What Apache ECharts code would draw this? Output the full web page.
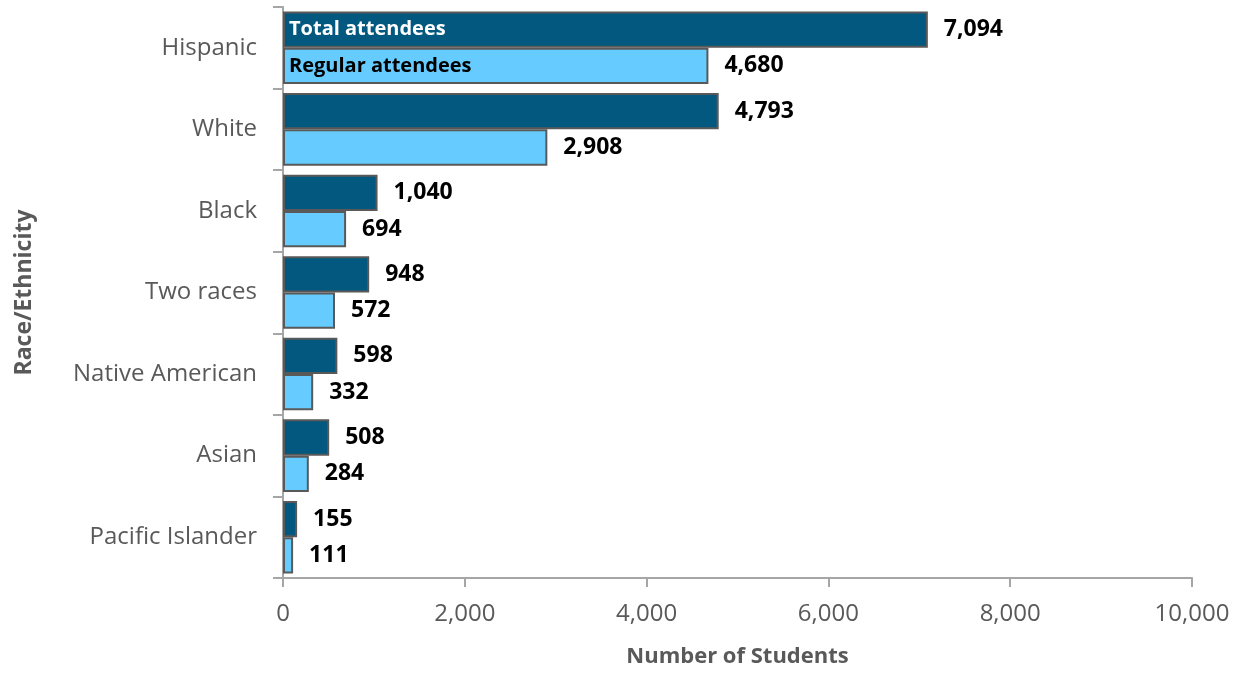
<!DOCTYPE html>
<html>
<head>
<meta charset="utf-8">
<script src="https://cdn.jsdelivr.net/npm/echarts@6/dist/echarts.min.js"></script>
<style>html,body{margin:0;padding:0;background:#fff;}#c{width:1244px;height:673px;}</style>
</head>
<body>
<div id="c"></div>
<script>
const categories = ['Hispanic', 'White', 'Black', 'Two races', 'Native American', 'Asian', 'Pacific Islander'];
const totalAttendees = [7094, 4793, 1040, 948, 598, 508, 155];
const regularAttendees = [4680, 2908, 694, 572, 332, 284, 111];
const seriesNames = ['Total attendees', 'Regular attendees'];
const xTicks = { min: 0, max: 10000, interval: 2000 };

const FONT = '"Open Sans", "Liberation Sans", sans-serif';
const fmt = v => v.toLocaleString('en-US');
const border = { borderColor: '#595959', borderWidth: 2 };

// zero-width bars that only carry the in-bar series names on the first category
const nameCarrier = () => categories.map((c, i) => i === 0 ? 0 : '-');

const chart = echarts.init(document.getElementById('c'));
chart.setOption({
  animation: false,
  backgroundColor: '#fff',
  grid: { left: 283, right: 52, top: 7, bottom: 88, containLabel: false },
  xAxis: {
    type: 'value', min: xTicks.min, max: xTicks.max, interval: xTicks.interval,
    name: 'Number of Students', nameLocation: 'middle', nameGap: 68,
    nameTextStyle: { fontFamily: FONT, fontSize: 22, fontWeight: 'bold', color: '#595959' },
    axisLine: { show: true, lineStyle: { color: '#A6A6A6', width: 2 } },
    axisTick: { show: true, length: 9, lineStyle: { color: '#A6A6A6', width: 2 } },
    axisLabel: { fontFamily: FONT, fontSize: 24, color: '#595959', margin: 24, formatter: v => fmt(v) },
    splitLine: { show: false }
  },
  yAxis: {
    type: 'category', data: categories, inverse: true,
    name: 'Race/Ethnicity', nameLocation: 'middle', nameGap: 247, nameRotate: 90,
    nameTextStyle: { fontFamily: FONT, fontSize: 23, fontWeight: 'bold', color: '#595959' },
    axisLine: { show: true, lineStyle: { color: '#A6A6A6', width: 2 } },
    axisTick: { show: true, length: 10, lineStyle: { color: '#A6A6A6', width: 2 } },
    axisLabel: { fontFamily: FONT, fontSize: 24, color: '#595959', margin: 26 }
  },
  series: [
    {
      name: seriesNames[0] + ' label', type: 'bar', stack: 't', data: nameCarrier(),
      barCategoryGap: '11%', barGap: '0%', itemStyle: { color: 'transparent' }, z: 5,
      label: { show: true, position: 'right', distance: 6, formatter: seriesNames[0],
               fontFamily: FONT, fontSize: 20, fontWeight: 'bold', color: '#fff' }
    },
    {
      name: seriesNames[0], type: 'bar', stack: 't', data: totalAttendees,
      barCategoryGap: '11%', barGap: '0%',
      itemStyle: Object.assign({ color: '#03587F' }, border),
      label: { show: true, position: 'right', distance: 16, formatter: p => fmt(p.value),
               fontFamily: FONT, fontSize: 23, fontWeight: 'bold', color: '#000' }
    },
    {
      name: seriesNames[1] + ' label', type: 'bar', stack: 'r', data: nameCarrier(),
      barCategoryGap: '11%', barGap: '0%', itemStyle: { color: 'transparent' }, z: 5,
      label: { show: true, position: 'right', distance: 6, formatter: seriesNames[1],
               fontFamily: FONT, fontSize: 20, fontWeight: 'bold', color: '#000' }
    },
    {
      name: seriesNames[1], type: 'bar', stack: 'r', data: regularAttendees,
      barCategoryGap: '11%', barGap: '0%',
      itemStyle: Object.assign({ color: '#66CCFF' }, border),
      label: { show: true, position: 'right', distance: 16, formatter: p => fmt(p.value),
               fontFamily: FONT, fontSize: 23, fontWeight: 'bold', color: '#000' }
    }
  ]
});
</script>
</body>
</html>
